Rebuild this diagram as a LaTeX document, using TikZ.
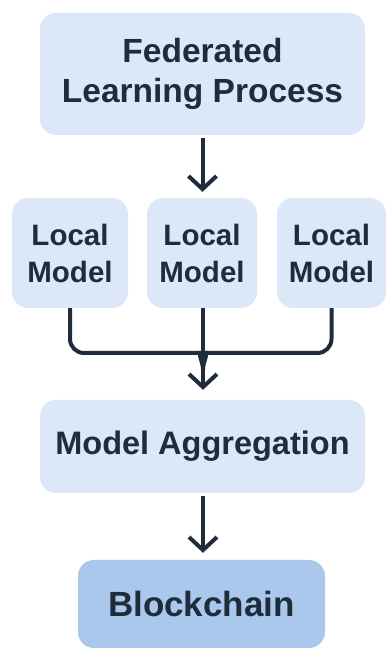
\documentclass[tikz,border=0pt]{standalone}
\usepackage{fontspec}
\setmainfont{Liberation Sans}
\usetikzlibrary{arrows.meta}
\definecolor{boxfill}{HTML}{DCE8F7}
\definecolor{chainfill}{HTML}{A9C8EC}
\definecolor{ink}{HTML}{1F2C3C}
\tikzset{
  box/.style={fill=boxfill, draw=none, rounded corners=16pt, align=center, text=ink, font=\bfseries, inner sep=0pt},
  conn/.style={draw=ink, line width=4pt},
  arr/.style={conn, -{Straight Barb[length=13pt,width=28pt]}}
}
\begin{document}
\begin{tikzpicture}[x=1pt,y=1pt]
\useasboundingbox (0,0) rectangle (388,650);
\fill[white] (0,0) rectangle (388,650);
\node[box, minimum width=325pt, minimum height=122pt, font=\bfseries\fontsize{33.5}{40}\selectfont] (top) at (202.5,576) {Federated\\Learning Process};
\node[box, minimum width=116pt, minimum height=110pt, font=\bfseries\fontsize{29.5}{37}\selectfont] (L) at (70,397) {Local\\Model};
\node[box, minimum width=110pt, minimum height=110pt, font=\bfseries\fontsize{29.5}{37}\selectfont] (M) at (202,397) {Local\\Model};
\node[box, minimum width=109pt, minimum height=110pt, font=\bfseries\fontsize{29.5}{37}\selectfont] (R) at (331.5,397) {Local\\Model};
\node[box, minimum width=325pt, minimum height=93pt, font=\bfseries\fontsize{32.5}{38}\selectfont] (agg) at (202.5,203.5) {Model Aggregation};
\node[box, fill=chainfill, minimum width=247pt, minimum height=88pt, font=\bfseries\fontsize{35}{40}\selectfont] (bc) at (201.5,46) {Blockchain};
\coordinate (merge) at (203,280);
\draw[arr, shorten <=3pt, shorten >=6pt] (top.south) -- (top.south |- L.north);
\draw[conn, rounded corners=14pt] (L.south) -- (L.south |- 0,297) -- (188,297) to[out=0,in=90] (merge);
\draw[conn, rounded corners=14pt] (R.south) -- (R.south |- 0,297) -- (218,297) to[out=180,in=90] (merge);
\draw[arr, shorten >=10pt] (M.south -| merge) -- (agg.north -| merge);
\draw[arr, shorten <=3pt, shorten >=7pt] (agg.south -| merge) -- (bc.north -| merge);
\end{tikzpicture}
\end{document}
